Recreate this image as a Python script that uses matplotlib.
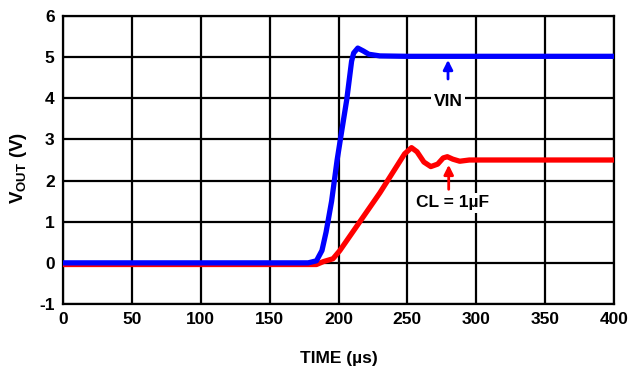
import matplotlib
matplotlib.use("Agg")
import matplotlib.pyplot as plt

plt.rcParams['font.family'] = ['Liberation Sans', 'DejaVu Sans']
plt.rcParams['font.weight'] = 'bold'
plt.rcParams['axes.unicode_minus'] = False
plt.rcParams['mathtext.fontset'] = 'custom'
plt.rcParams['mathtext.rm'] = 'Liberation Sans:bold'
plt.rcParams['mathtext.bf'] = 'Liberation Sans:bold'
plt.rcParams['mathtext.it'] = 'Liberation Sans:bold'

# Data
vin_t = [0, 178, 184, 188, 191, 195, 199, 202.5, 206, 209.5, 211, 214, 218, 222, 230, 250, 300, 400]
vin_v = [0.0, 0.0, 0.05, 0.3, 0.75, 1.5, 2.5, 3.24, 3.97, 4.9, 5.1, 5.22, 5.15, 5.07, 5.03, 5.02, 5.02, 5.02]

cl_t = [0, 184, 189, 196, 201, 230, 248, 253, 257, 262, 267, 272, 276, 279, 283, 288, 295, 400]
cl_v = [-0.04, -0.04, 0.03, 0.1, 0.3, 1.7, 2.65, 2.8, 2.7, 2.45, 2.34, 2.4, 2.55, 2.58, 2.52, 2.47, 2.5, 2.5]

x_ticks = [0, 50, 100, 150, 200, 250, 300, 350, 400]
y_ticks = [-1, 0, 1, 2, 3, 4, 5, 6]

fig = plt.figure(figsize=(6.39, 3.70), dpi=100)
ax = fig.add_axes([63/639, 1 - 304/370, (614-63)/639, (304-16)/370])

ax.set_xlim(0, 400)
ax.set_ylim(-1, 6)
ax.set_xticks(x_ticks)
ax.set_yticks(y_ticks)
ax.grid(True, color='black', linewidth=1.6)
ax.set_axisbelow(True)
for s in ax.spines.values():
    s.set_linewidth(1.6)
    s.set_color('black')
ax.tick_params(length=0, labelsize=12.5, pad=6)
for lab in ax.get_xticklabels() + ax.get_yticklabels():
    lab.set_fontweight('bold')

ax.plot(cl_t, cl_v, color='#ff0000', linewidth=3.8, solid_capstyle='butt', zorder=3)
ax.plot(vin_t, vin_v, color='#0000ff', linewidth=3.8, solid_capstyle='butt', zorder=4)

ax.annotate('', xy=(279.5, 5.0), xytext=(279.5, 4.4),
            arrowprops=dict(arrowstyle='-|>', color='#0000ff', lw=2, mutation_scale=14), zorder=5)
ax.text(279.5, 3.92, 'VIN', ha='center', va='center', fontsize=12.5, fontweight='bold',
        bbox=dict(facecolor='white', edgecolor='none', pad=2), zorder=5)

ax.annotate('', xy=(280, 2.45), xytext=(280, 1.72),
            arrowprops=dict(arrowstyle='-|>', color='#ff0000', lw=2, mutation_scale=14), zorder=5)
ax.text(283, 1.46, 'CL = 1µF', ha='center', va='center', fontsize=12.5, fontweight='bold',
        bbox=dict(facecolor='white', edgecolor='none', pad=2), zorder=5)

ax.set_xlabel('TIME (µs)', fontsize=12.5, fontweight='bold', labelpad=17)
ax.set_ylabel(r'V$_{\mathrm{OUT}}$ (V)', fontsize=13.5, fontweight='bold')
ax.yaxis.set_label_coords(-0.062, 0.474)

fig.savefig('out.png', dpi=100)
